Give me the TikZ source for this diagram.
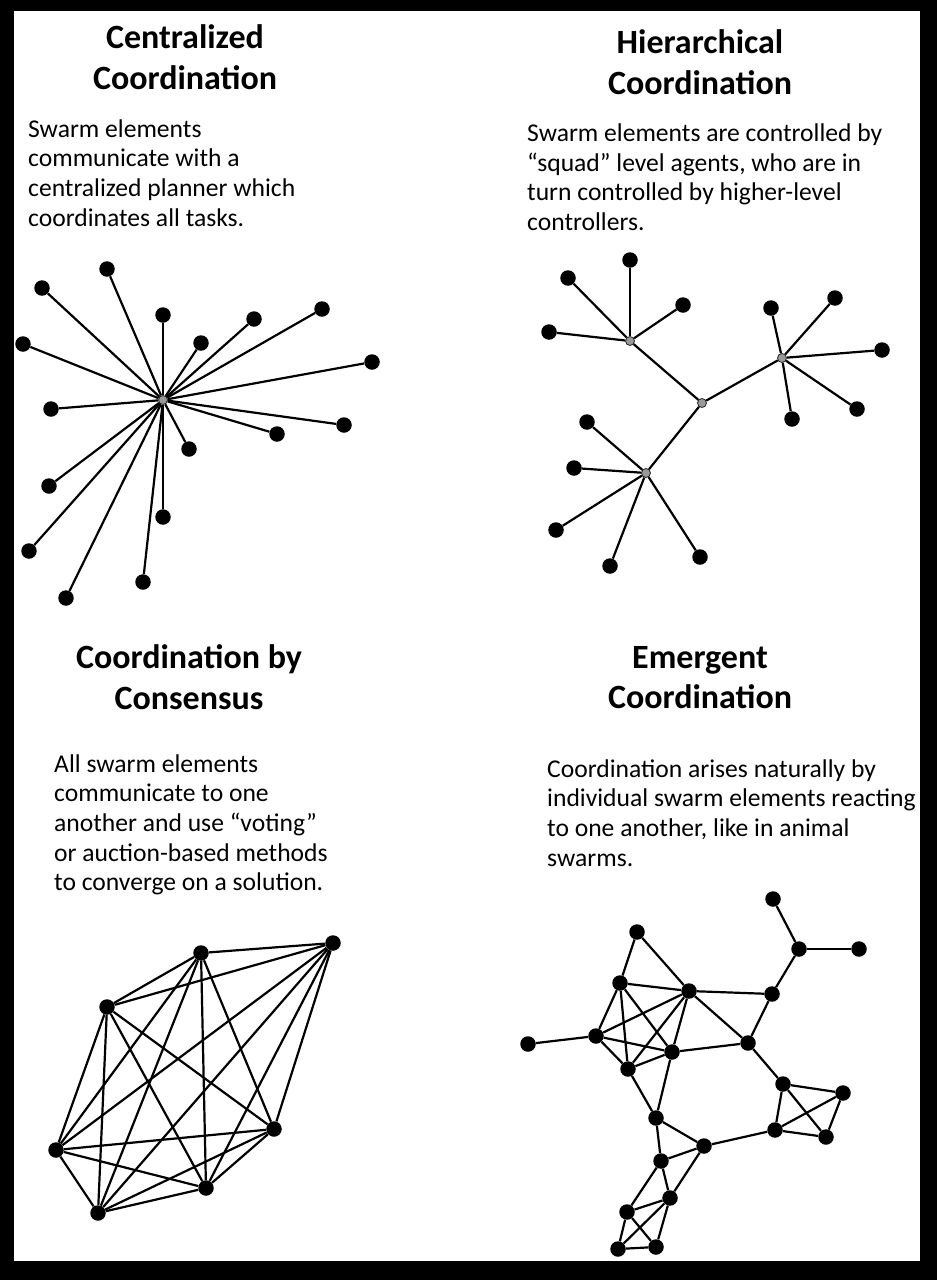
\documentclass[tikz,border=0pt]{standalone}
\usepackage{fontspec}
\setmainfont{Carlito}
\begin{document}
\tikzset{
  dot/.style={circle, fill=black, inner sep=0pt, minimum size=15.5pt},
  hub/.style={circle, fill=black!40, draw=black!85, line width=0.8pt, inner sep=0pt, minimum size=9pt},
  link/.style={line width=2.2pt, draw=black},
  ttl/.style={font=\fontsize{34}{40.5}\selectfont\bfseries, align=center, anchor=base, inner sep=0pt, text=black},
  body/.style={font=\fontsize{25.6}{29.7}\selectfont, align=left, anchor=base west, inner sep=0pt, text=black},
}
\begin{tikzpicture}[x=1pt,y=-1pt]
\fill[black] (0,0) rectangle (937,1280);
\fill[white] (14,11) rectangle (920,1261);
\useasboundingbox (0,0) rectangle (937,1280);

% ---------- texts (anchor = baseline of the last line) ----------
\node[ttl] (tA) at (185,89) {Centralized\\Coordination};
\node[body] (bA) at (28,226.1) {Swarm elements\\communicate with a\\centralized planner which\\coordinates all tasks.};

\node[ttl] (tB) at (700,94) {Hierarchical\\Coordination};
\node[body] (bB) at (527,230.6) {Swarm elements are controlled by\\“squad” level agents, who are in\\turn controlled by higher-level\\controllers.};

\node[ttl] (tC) at (189,709) {Coordination by\\Consensus};
\node[body] (bC) at (54,890.8) {All swarm elements\\communicate to one\\another and use “voting”\\or auction-based methods\\to converge on a solution.};

\node[ttl] (tD) at (700,708.5) {Emergent\\Coordination};
\node[body] (bD) at (547,866.1) {Coordination arises naturally by\\individual swarm elements reacting\\to one another, like in animal\\swarms.};

% ---------- centralized ----------
\node[hub] (ch) at (163,400) {};
\foreach \i/\x/\y in {1/107/269, 2/42/288, 3/23/344, 4/163/315, 5/201/343, 6/254/319,
  7/322/309, 8/372/362, 9/51/409, 10/344/425, 11/277/434, 12/189/449, 13/49/486,
  14/163/517, 15/29/551, 16/143/582, 17/66/598}{
  \node[dot] (c\i) at (\x,\y) {};
  \draw[link] (ch) -- (c\i);
}

% ---------- hierarchical ----------
\node[hub] (h0) at (702,403) {};
\node[hub] (hA) at (630,341) {};
\node[hub] (hB) at (782,358) {};
\node[hub] (hC) at (646,473) {};
\draw[link] (h0) -- (hA);
\draw[link] (h0) -- (hB);
\draw[link] (h0) -- (hC);
\foreach \i/\x/\y in {1/630/260, 2/568/278, 3/683/305, 4/549/332}{
  \node[dot] (a\i) at (\x,\y) {};
  \draw[link] (hA) -- (a\i);
}
\foreach \i/\x/\y in {1/771/308, 2/835/298, 3/882/350, 4/857/409, 5/792/419}{
  \node[dot] (b\i) at (\x,\y) {};
  \draw[link] (hB) -- (b\i);
}
\foreach \i/\x/\y in {1/587/422, 2/574/468, 3/556/530, 4/610/566, 5/700/557}{
  \node[dot] (d\i) at (\x,\y) {};
  \draw[link] (hC) -- (d\i);
}

% ---------- consensus ----------
\foreach \i/\x/\y in {1/201/953, 2/333/943, 3/107/1007, 4/274/1129, 5/56/1150, 6/206/1188, 7/98/1213}{
  \node[dot] (k\i) at (\x,\y) {};
}
\foreach \i in {1,...,7}{
  \foreach \j in {1,...,7}{
    \ifnum\i<\j \draw[link] (k\i) -- (k\j); \fi
  }
}

% ---------- emergent ----------
\foreach \i/\x/\y in {1/773/899, 2/799/949, 3/859/949, 4/637/932, 5/620/983, 6/689/991,
  7/772/994, 8/528/1044, 9/596/1036, 10/672/1052, 11/748/1043, 12/628/1069,
  13/783/1084, 14/843/1093, 15/775/1130, 16/826/1137, 17/656/1118, 18/704/1146,
  19/661/1161, 20/670/1198, 21/627/1212, 22/618/1249, 23/656/1247}{
  \node[dot] (e\i) at (\x,\y) {};
}
\foreach \a/\b in {1/2, 2/3, 2/7, 7/6, 7/11, 4/5, 4/6, 5/6, 5/9, 5/12, 5/10,
  6/9, 6/12, 6/10, 6/11, 8/9, 9/10, 9/12, 10/12, 10/11, 10/17, 12/17,
  11/13, 13/14, 13/15, 13/16, 14/15, 14/16, 15/16, 15/18,
  17/18, 17/19, 18/19, 18/20, 19/20, 19/21, 20/21, 20/22, 20/23, 21/22, 21/23, 22/23}{
  \draw[link] (e\a) -- (e\b);
}
\end{tikzpicture}
\end{document}
